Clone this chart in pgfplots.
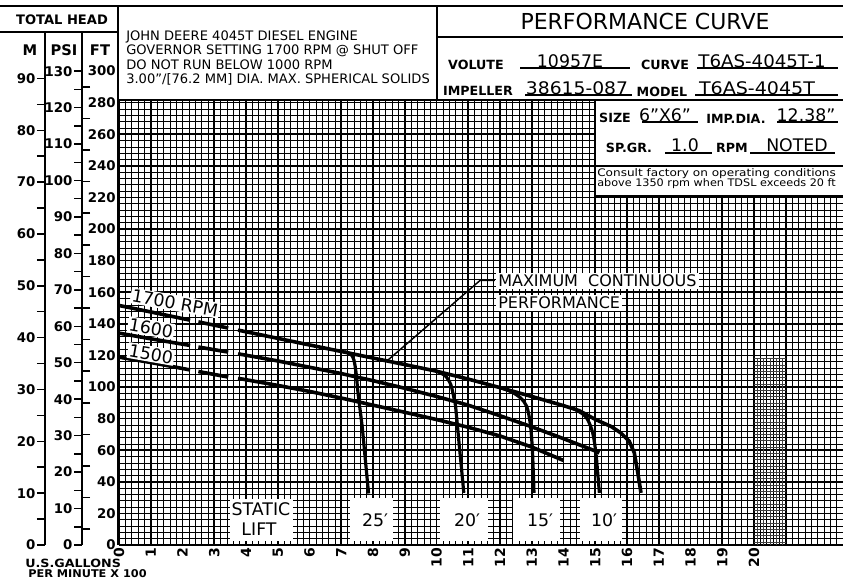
\documentclass[border=0pt]{standalone}
\usepackage{pgfplots}
\pgfplotsset{compat=1.18}
\usepackage{fontspec}
\setmainfont{DejaVu Sans}
\newcommand\fs[1]{\fontsize{#1}{#1}\selectfont}
\begin{document}
\begin{tikzpicture}
\useasboundingbox (0,0) rectangle (632.25pt,435pt);
% ---------- side scales ----------
\pgfplotsset{sidescale/.style={
  anchor=south west, scale only axis, width=5pt, height=384.75pt,
  xmin=0, xmax=1, ymin=0,
  axis x line=none, axis y line*=left,
  axis line style={-, line width=1.5pt},
  tick align=outside, major tick length=6pt, minor tick length=6pt,
  every tick/.style={black, line width=1.1pt},
  yticklabel style={font=\bfseries\fs{10}, inner sep=1pt},
  /pgf/number format/assume math mode=true}}
% M
\begin{axis}[sidescale, at={(33.75pt,26.25pt)}, ymax=98.96,
  ytick={0,10,...,90}, minor ytick={5,15,...,85}]
\end{axis}
% PSI
\begin{axis}[sidescale, at={(61.5pt,26.25pt)}, ymax=140.76,
  ytick={0,10,...,130}, minor ytick={5,15,...,125}]
\end{axis}
% FT minor ticks (right of PSI line)
\begin{axis}[at={(61.5pt,26.25pt)}, anchor=south east, scale only axis,
  width=5pt, height=384.75pt, xmin=0, xmax=1, ymin=0, ymax=324.68,
  axis x line=none, axis y line*=right, axis line style={-, line width=1.5pt},
  ytick={10,30,...,290}, yticklabels={}, tick align=outside,
  major tick length=6pt, every tick/.style={black, line width=1.1pt}]
\end{axis}
% FT labels
\begin{axis}[sidescale, at={(88.5pt,26.25pt)}, ymax=324.68,
  ytick={0,20,...,300}, major tick length=0pt,
  yticklabel style={font=\bfseries\fs{10}, inner sep=1.5pt}]
\end{axis}
% ---------- main grid ----------
\begin{axis}[
  at={(89.25pt,26.25pt)}, anchor=south west,
  scale only axis, width=543pt, height=333.75pt,
  xmin=0, xmax=22.803, ymin=0, ymax=281.65,
  axis x line*=bottom, axis y line*=left,
  axis line style={-, line width=1.6pt},
  xtick={0,...,22}, ytick={0,20,...,280},
  minor xtick={0,0.2,...,22.8}, minor ytick={0,4,...,280},
  grid=both,
  major grid style={black, line width=1.15pt},
  minor grid style={black, line width=0.45pt},
  major tick length=0pt, minor tick length=0pt,
  yticklabels={},
  xticklabels={0,1,2,3,4,5,6,7,8,9,10,11,12,13,14,15,16,17,18,19,20,{},{}},
  xticklabel style={rotate=90, anchor=east, font=\bfseries\fs{10.5}, inner sep=2pt},
  /pgf/number format/assume math mode=true,
]
% 1700 RPM
\addplot[black, line width=2.7pt] coordinates {(0,151.6)(1,147.5)(2.24,142.3)};
\addplot[black, line width=2.7pt] coordinates {(2.5,141.2)(3.44,137.3)};
\addplot[black, line width=2.7pt] coordinates {(3.75,136)(5,130.8)(6,126.6)(7,122.5)(8,118.3)(9,114.2)(10,110)(11,105)(12,99.6)(13,94)(14,88.2)(14.5,85)(15,79.5)(15.5,75)(15.8,71)(16.07,65.7)(16.23,58.3)(16.34,45.7)(16.44,33)};
% 1600 RPM
\addplot[black, line width=2.7pt] coordinates {(0,134.1)(1,130.5)(2.24,126.3)};
\addplot[black, line width=2.7pt] coordinates {(2.5,125.3)(3.44,122.1)};
\addplot[black, line width=2.7pt] coordinates {(3.75,121)(5,116.5)(6,112.5)(7,108.5)(8,104)(9,99.2)(10,94)(11,88.5)(12,81.8)(13,74.8)(14,67.3)(15,59.5)(15.13,58.3)};
% 1500 RPM
\addplot[black, line width=2.7pt] coordinates {(0,118.9)(1,115.5)(2.24,110.8)};
\addplot[black, line width=2.7pt] coordinates {(2.5,109.8)(3.44,106.3)};
\addplot[black, line width=2.7pt] coordinates {(3.75,105.5)(5,101)(6,97.2)(7,93)(8,88.5)(9,84)(10,79.4)(11,74.5)(12,69)(13,62)(14,53.5)};
% static lift drop-offs
\addplot[black, line width=2.4pt, smooth, tension=0.5] coordinates {(7.1,122.3)(7.3,120.8)(7.4,117)(7.47,108.4)(7.53,95.8)(7.66,74.7)(7.76,53.7)(7.86,32.6)};
\addplot[black, line width=2.4pt, smooth, tension=0.5] coordinates {(10.0,110)(10.28,107)(10.45,101.5)(10.55,93)(10.6,87.8)(10.7,66.7)(10.78,50)(10.86,33)};
\addplot[black, line width=2.4pt, smooth, tension=0.5] coordinates {(12.1,99)(12.4,96.5)(12.65,93)(12.84,87.8)(12.95,77.3)(13.02,60.4)(13.07,33)};
\addplot[black, line width=2.4pt, smooth, tension=0.5] coordinates {(14.3,86.5)(14.6,83)(14.76,79.4)(14.92,71)(15.02,58.3)(15.08,45)(15.13,33)};
% leader
\addplot[black, line width=1.1pt] coordinates {(8.44,116.5)(11.37,167.4)(11.84,167.4)};
\end{axis}
% ---------- annotations (pixel coordinates) ----------
\begin{scope}[x=0.75pt, y=-0.75pt, shift={(0pt,435pt)}]
% denser patch of grid between 20 and 21
\foreach \k in {0,...,4} {\draw[line width=0.3pt, black!75] ({757.2+6.35*\k},358) -- ({757.2+6.35*\k},545);}
\foreach \k in {0,...,29} {\draw[line width=0.3pt, black!75] (754,{541.8-6.32*\k}) -- (786,{541.8-6.32*\k});}
\fill[white] (595,100) rectangle (843,196);
\draw[line width=1.5pt] (0,6.5) -- (843,6.5);
\draw[line width=1.5pt] (0,32) -- (118,32);
\draw[line width=1.5pt] (118,6.5) -- (118,100);
\draw[line width=1.5pt] (118,100) -- (843,100);
\draw[line width=1.5pt] (437,6.5) -- (437,100);
\draw[line width=1.5pt] (437,37) -- (843,37);
\draw[line width=1.5pt] (595,100) -- (595,196) -- (843,196);
\draw[line width=1pt] (595,166) -- (843,166);
% left header
\node[font=\bfseries\fs{9.8}] at (62,20) {TOTAL HEAD};
\node[font=\bfseries\fs{11}] at (30,50) {M};
\node[font=\bfseries\fs{11}] at (64,50) {PSI};
\node[font=\bfseries\fs{11}] at (100,50) {FT};
% engine box
\begin{scope}[every node/.style={anchor=west, font=\fs{9.8}, inner sep=0pt}]
\node at (126,37) {JOHN DEERE 4045T DIESEL ENGINE};
\node at (126,51) {GOVERNOR SETTING 1700 RPM @ SHUT OFF};
\node at (126,65) {DO NOT RUN BELOW 1000 RPM};
\node at (126,79) {3.00"/[76.2 MM] DIA. MAX. SPHERICAL SOLIDS};
\end{scope}
% performance box
\node[font=\fs{16.5}] at (645,22) {PERFORMANCE CURVE};
\begin{scope}[every node/.style={font=\bfseries\fs{9.5}, inner sep=0pt}]
\node at (476,65) {VOLUTE};
\node at (665,65) {CURVE};
\node at (478,91) {IMPELLER};
\node at (662,92) {MODEL};
\node at (615,118) {SIZE};
\node at (736,119) {IMP.DIA.};
\node at (629,148) {SP.GR.};
\node at (732,148) {RPM};
\end{scope}
\begin{scope}[every node/.style={font=\fs{13}, inner sep=0pt}]
\node at (570,61) {10957E};
\node[xscale=1.05] at (762,61) {T6AS-4045T-1};
\node[xscale=1.08] at (577,88) {38615-087};
\node[xscale=1.1] at (757,88) {T6AS-4045T};
\node at (665,115) {6"X6"};
\node at (806,115) {12.38"};
\node at (685,145) {1.0};
\node at (797,145) {NOTED};
\end{scope}
\begin{scope}[line width=0.8pt]
\draw (520,68) -- (630,68); \draw (697,68) -- (838,68);
\draw (525,95) -- (632,95); \draw (695,95) -- (838,95);
\draw (642,122) -- (698,122); \draw (777,122) -- (838,122);
\draw (665,153) -- (712,153); \draw (750,153) -- (835,153);
\end{scope}
\node[anchor=west, font=\fs{7.8}, inner sep=0pt, xscale=1.16] at (597,174) {Consult factory on operating conditions};
\node[anchor=west, font=\fs{7.8}, inner sep=0pt, xscale=1.08] at (597,184) {above 1350 rpm when TDSL exceeds 20 ft};
% curve labels
\node[fill=white, inner sep=1pt, rotate=-10, font=\fs{13}] at (175,303) {1700 RPM};
\node[fill=white, inner sep=1pt, rotate=-10, font=\fs{13}] at (151,328) {1600};
\node[fill=white, inner sep=1pt, rotate=-10, font=\fs{13}] at (151,354) {1500};
\node[fill=white, anchor=west, inner sep=1.5pt, font=\fs{12}] at (496,281) {MAXIMUM\ \ CONTINUOUS};
\node[fill=white, anchor=west, inner sep=1.5pt, font=\fs{12}] at (496,303) {PERFORMANCE};
% static lift boxes
\fill[white] (230,499) rectangle (293,541);
\fill[white] (350,498) rectangle (393,541);
\fill[white] (440,498) rectangle (488,541);
\fill[white] (513,498) rectangle (560,541);
\fill[white] (580,498) rectangle (622,541);
\node[font=\fs{13}] at (261,509) {STATIC};
\node[font=\fs{13}] at (259,529) {LIFT};
\node[font=\fs{13}] at (375,520) {25′};
\node[font=\fs{13}] at (467,520) {20′};
\node[font=\fs{13}] at (540,520) {15′};
\node[font=\fs{13}] at (604,520) {10′};
% bottom axis caption
\node[anchor=west, font=\bfseries\fs{8.5}, inner sep=0pt, xscale=1.12] at (25,563) {U.S.GALLONS};
\node[anchor=west, font=\bfseries\fs{8}, inner sep=0pt, xscale=1.06] at (28,574) {PER\ MINUTE X\ 100};
\end{scope}
\end{tikzpicture}
\end{document}
